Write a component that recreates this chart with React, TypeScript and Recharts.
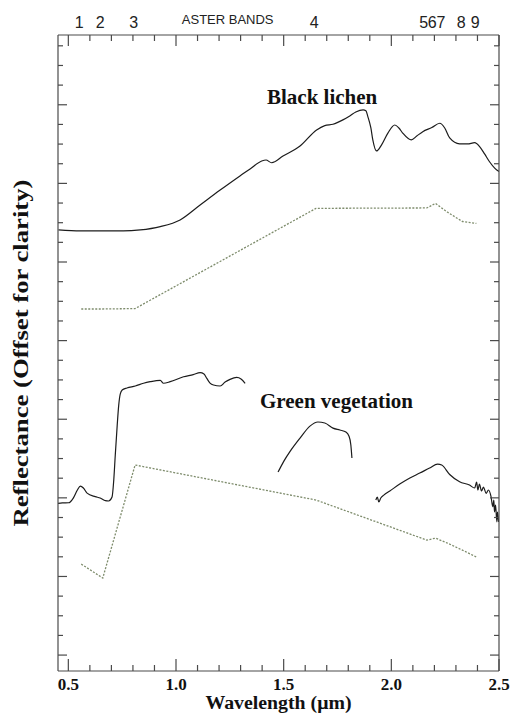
import React from 'react';
import { LineChart, Line, XAxis, YAxis, ReferenceDot } from 'recharts';

// wavelength in µm, reflectance in tick units (spectra are offset for clarity)
const LICHEN_WL = [0.454, 0.556, 0.648, 0.755, 0.834, 0.927, 1.019, 1.112, 1.205, 1.297, 1.344, 1.398, 1.418, 1.444, 1.497, 1.576, 1.653, 1.691, 1.729, 1.775, 1.807, 1.835, 1.869, 1.882, 1.891, 1.905, 1.914, 1.931, 1.954, 1.984, 2.016, 2.035, 2.053, 2.093, 2.118, 2.146, 2.188, 2.225, 2.248, 2.271, 2.317, 2.354, 2.387, 2.41, 2.433, 2.456, 2.48, 2.5];
const LICHEN_R = [21.63, 21.58, 21.58, 21.58, 21.63, 21.8, 22.14, 22.9, 23.66, 24.38, 24.73, 25.14, 25.19, 25.05, 25.39, 25.9, 26.72, 26.94, 27.01, 27.23, 27.43, 27.63, 27.74, 27.69, 27.4, 26.82, 26.21, 25.65, 25.95, 26.56, 26.97, 26.82, 26.56, 26.21, 26.41, 26.63, 26.84, 27.06, 26.82, 26.31, 26.01, 26.01, 26.07, 25.87, 25.5, 25.1, 24.78, 24.6];

// null = water absorption gaps
const VEG_WL = [0.452, 0.472, 0.501, 0.523, 0.542, 0.556, 0.57, 0.587, 0.625, 0.648, 0.672, 0.687, 0.703, 0.711, 0.718, 0.727, 0.734, 0.741, 0.75, 0.772, 0.811, 0.849, 0.88, 0.927, 0.942, 0.973, 1.035, 1.08, 1.112, 1.13, 1.143, 1.158, 1.174, 1.205, 1.228, 1.251, 1.282, 1.302, 1.321, 1.4, 1.474, 1.501, 1.529, 1.576, 1.622, 1.659, 1.691, 1.729, 1.761, 1.789, 1.803, 1.812, 1.817, 1.87, 1.928, 1.935, 1.942, 1.951, 1.965, 1.993, 2.039, 2.086, 2.132, 2.178, 2.215, 2.234, 2.271, 2.317, 2.363, 2.387, 2.396, 2.402, 2.409, 2.419, 2.428, 2.44, 2.451, 2.463, 2.471, 2.476, 2.479, 2.484, 2.49, 2.493, 2.498];
const VEG_R = [7.72, 7.74, 7.75, 7.99, 8.4, 8.6, 8.5, 8.24, 8.06, 7.99, 7.86, 7.84, 8.04, 8.91, 10.18, 11.7, 12.72, 13.28, 13.49, 13.59, 13.69, 13.83, 13.91, 13.98, 13.83, 13.91, 14.16, 14.27, 14.37, 14.3, 14.08, 13.84, 13.74, 13.69, 13.89, 14.03, 14.13, 14.05, 13.83, null, 9.31, 9.87, 10.35, 11.04, 11.65, 11.86, 11.81, 11.55, 11.45, 11.35, 11.15, 10.69, 10.03, null, 7.89, 8.04, 7.79, 7.99, 8.14, 8.35, 8.7, 9.01, 9.26, 9.52, 9.72, 9.67, 9.19, 8.82, 8.65, 8.5, 8.8, 8.4, 8.7, 8.35, 8.55, 8.23, 8.4, 8.06, 7.55, 7.89, 7.29, 7.63, 6.78, 7.28, 6.77];

// spectra resampled to ASTER band centres
const ASTER_WL = [0.56, 0.66, 0.81, 1.65, 2.165, 2.205, 2.26, 2.33, 2.395];
const LICHEN_ASTER = [17.61, 17.61, 17.63, 22.73, 22.75, 22.98, 22.54, 22.06, 21.96];
const VEG_ASTER = [4.63, 3.92, 9.67, 7.89, 5.85, 5.95, 5.7, 5.34, 4.99];

const BAND_POS = [0.551, 0.648, 0.803, 1.642, 2.15, 2.19, 2.23, 2.325, 2.39];
const BAND_NAMES = ['1', '2', '3', '4', '5', '6', '7', '8', '9'];
const BAND_TITLE_POS = 1.24;

const X_TICKS = [0.5, 0.6, 0.7, 0.8, 0.9, 1.0, 1.1, 1.2, 1.3, 1.4, 1.5, 1.6, 1.7, 1.8, 1.9, 2.0, 2.1, 2.2, 2.3, 2.4, 2.5];
const Y_TICKS = [0, 1, 2, 3, 4, 5, 6, 7, 8, 9, 10, 11, 12, 13, 14, 15, 16, 17, 18, 19, 20, 21, 22, 23, 24, 25, 26, 27, 28, 29, 30, 31];

const AXIS = '#4a4a4a';
const INK = '#1c1c1c';
const DOTTED = '#7e8c6c';
const SERIF = '"Liberation Serif", "Times New Roman", serif';
const SANS = '"Liberation Sans", Arial, sans-serif';

const zip = (wl: number[], r: (number | null)[]) => wl.map((w, i) => ({ w, v: r[i] }));
const lichen = zip(LICHEN_WL, LICHEN_R);
const veg = zip(VEG_WL, VEG_R);
const lichenAster = zip(ASTER_WL, LICHEN_ASTER);
const vegAster = zip(ASTER_WL, VEG_ASTER);

const bandLabels = new Map<number, string>(BAND_POS.map((p, i) => [p, BAND_NAMES[i]]));
bandLabels.set(BAND_TITLE_POS, 'ASTER BANDS');
const topTicks = [...X_TICKS, ...BAND_POS, BAND_TITLE_POS];

const isMajorX = (v: number) => Math.abs(v * 2 - Math.round(v * 2)) < 1e-6;

const BottomTick = ({ x, y, payload }: any) => {
  const major = isMajorX(payload.value);
  return (
    <g>
      <line x1={x} x2={x} y1={y} y2={y - (major ? 12 : 6)} stroke={AXIS} strokeWidth={1.2} />
      {major && (
        <text x={x} y={y + 19} textAnchor="middle" fontFamily={SERIF} fontWeight="bold" fontSize={17} fill="#111">
          {payload.value.toFixed(1)}
        </text>
      )}
    </g>
  );
};

const TopTick = ({ x, y, payload }: any) => {
  const label = bandLabels.get(payload.value);
  if (label === 'ASTER BANDS') {
    return (
      <text x={x} y={y - 11} textAnchor="middle" fontFamily={SANS} fontSize={13} fill="#222">
        {label}
      </text>
    );
  }
  if (label) {
    return (
      <text x={x} y={y - 7} textAnchor="middle" fontFamily={SANS} fontSize={16} fill="#222">
        {label}
      </text>
    );
  }
  const major = isMajorX(payload.value);
  return <line x1={x} x2={x} y1={y} y2={y + (major ? 11 : 6)} stroke={AXIS} strokeWidth={1.2} />;
};

const LeftTick = ({ x, y, payload }: any) => (
  <line x1={x} x2={x + (payload.value % 4 === 0 ? 9 : 5)} y1={y} y2={y} stroke={AXIS} strokeWidth={1.2} />
);

const RightTick = ({ x, y, payload }: any) => (
  <line x1={x} x2={x - (payload.value % 4 === 0 ? 9 : 5)} y1={y} y2={y} stroke={AXIS} strokeWidth={1.2} />
);

const XTitle = ({ viewBox }: any) => (
  <text x={viewBox.x + viewBox.width / 2} y={viewBox.y + 38} textAnchor="middle" fontFamily={SERIF} fontWeight="bold"
    fontSize={18} textLength={146} lengthAdjust="spacingAndGlyphs" fill="#111">
    Wavelength (μm)
  </text>
);

const YTitle = ({ viewBox }: any) => {
  const cx = 28;
  const cy = viewBox.y + viewBox.height / 2;
  return (
    <text x={cx} y={cy} transform={`rotate(-90, ${cx}, ${cy})`} textAnchor="middle" fontFamily={SERIF} fontWeight="bold"
      fontSize={21} textLength={347} lengthAdjust="spacingAndGlyphs" fill="#111">
      Reflectance (Offset for clarity)
    </text>
  );
};

const curveLabel = (text: string) => ({ viewBox }: any) => (
  <text x={viewBox.x} y={viewBox.y} fontFamily={SERIF} fontWeight="bold" fontSize={21} fill="#111">
    {text}
  </text>
);

export default function App() {
  return (
    <div style={{ position: 'absolute', left: 0, top: 0, width: 512, height: 713, background: '#fff' }}>
      <LineChart width={512} height={713} margin={{ top: 0, right: 0, bottom: 0, left: 0 }}>
        <XAxis xAxisId="bottom" dataKey="w" type="number" domain={[0.452, 2.5]} allowDataOverflow
          ticks={X_TICKS} interval={0} height={42} tickSize={0} tickMargin={0} tickLine={false}
          axisLine={{ stroke: AXIS, strokeWidth: 1.2 }} tick={<BottomTick />}
          label={{ content: <XTitle /> }} />
        <XAxis xAxisId="top" orientation="top" dataKey="w" type="number" domain={[0.452, 2.5]} allowDataOverflow
          ticks={topTicks} interval={0} height={35} tickSize={0} tickMargin={0} tickLine={false}
          axisLine={{ stroke: AXIS, strokeWidth: 1.2 }} tick={<TopTick />} />
        <YAxis yAxisId="left" type="number" domain={[-0.81, 31.55]} allowDataOverflow ticks={Y_TICKS} interval={0}
          width={58} tickSize={0} tickMargin={0} tickLine={false} axisLine={{ stroke: AXIS, strokeWidth: 1.2 }}
          tick={<LeftTick />} label={{ content: <YTitle /> }} />
        <YAxis yAxisId="right" orientation="right" type="number" domain={[-0.81, 31.55]} allowDataOverflow
          ticks={Y_TICKS} interval={0} width={13} tickSize={0} tickMargin={0} tickLine={false}
          axisLine={{ stroke: AXIS, strokeWidth: 1.2 }} tick={<RightTick />} />

        <Line xAxisId="bottom" yAxisId="left" data={lichen} dataKey="v" type="monotone" stroke={INK}
          strokeWidth={1.2} dot={false} activeDot={false} isAnimationActive={false} />
        <Line xAxisId="bottom" yAxisId="left" data={lichenAster} dataKey="v" type="linear" stroke={DOTTED}
          strokeWidth={1.3} strokeDasharray="2 1.5" dot={false} activeDot={false} isAnimationActive={false} />
        <Line xAxisId="bottom" yAxisId="left" data={veg} dataKey="v" type="monotone" stroke={INK}
          strokeWidth={1.2} dot={false} activeDot={false} isAnimationActive={false} />
        <Line xAxisId="bottom" yAxisId="left" data={vegAster} dataKey="v" type="linear" stroke={DOTTED}
          strokeWidth={1.3} strokeDasharray="2 1.5" dot={false} activeDot={false} isAnimationActive={false} />

        <ReferenceDot xAxisId="bottom" yAxisId="left" x={1.4226} y={28.04} r={0} fill="none" stroke="none"
          label={{ content: curveLabel('Black lichen') }} />
        <ReferenceDot xAxisId="bottom" yAxisId="left" x={1.39} y={12.57} r={0} fill="none" stroke="none"
          label={{ content: curveLabel('Green vegetation') }} />
      </LineChart>
    </div>
  );
}
